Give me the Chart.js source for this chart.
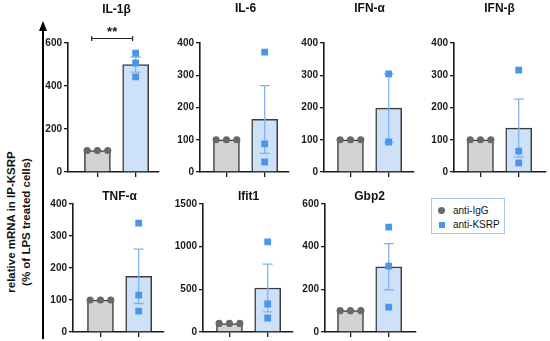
<!DOCTYPE html>
<html>
<head>
<meta charset="utf-8">
<script src="https://cdn.jsdelivr.net/npm/chart.js@4.4.0/dist/chart.umd.min.js"></script>
<style>
  body { margin: 0; background: #fff; width: 550px; height: 341px; position: relative; overflow: hidden;
         font-family: "Liberation Sans", Arial, sans-serif; color: #111; }
  canvas { position: absolute; }
  #ylab { position: absolute; left: -141px; top: 207px; width: 320px; height: 30px; transform: rotate(-90deg);
          text-align: center; font-weight: bold; font-size: 11.5px; line-height: 15px; white-space: nowrap; }
  #legend { position: absolute; left: 431px; top: 198px; width: 74px; height: 36px; border: 1px solid #a9c9ef;
            box-sizing: border-box; font-size: 10px; }
  .lg { position: absolute; left: 21px; white-space: nowrap; }
  .mk { position: absolute; }
</style>
</head>
<body>
<svg width="550" height="341" style="position:absolute;left:0;top:0">
  <line x1="43" y1="28" x2="43" y2="339" stroke="#000" stroke-width="2"/>
  <polygon points="43,21 39,31 47,31" fill="#000"/>
</svg>
<div id="ylab">relative mRNA in IP-KSRP<br>(% of LPS treated cells)</div>
<div id="legend"></div>

<script>
// ==================== DATOS ====================
const panelTitles = ['IL-1β', 'IL-6', 'IFN-α', 'IFN-β', 'TNF-α', 'Ifit1', 'Gbp2'];
const groupNames = ['anti-IgG', 'anti-KSRP'];
const iggMean = [100, 100, 100, 100, 100, 100, 100];
const ksrpMean = [500, 163, 198, 136, 174, 516, 306];
const ksrpSem = [35, 105, 106, 90, 85, 280, 108];
const iggPoints = [[100, 100, 100], [100, 100, 100], [100, 100, 100], [100, 100, 100],
                   [100, 100, 100], [100, 100, 100], [100, 100, 100]];
const ksrpPoints = [[553, 507, 442], [372, 87, 31], [304, 93], [316, 65, 28],
                    [340, 115, 65], [1055, 328, 164], [492, 309, 117]];
const yMax = [600, 400, 400, 400, 400, 1500, 600];
const yStep = [200, 100, 100, 100, 100, 500, 200];
const sigLabel = ['**', '', '', '', '', '', ''];

// ==================== LAYOUT ====================
// chart area of each panel (px), left padding before first bar, title offset above chart area
const boxes = [
  { l: 68,  r: 160, t: 43,  b: 172, pad: 30, tt: 33 },
  { l: 200, r: 290, t: 43,  b: 172, pad: 27, tt: 34 },
  { l: 324, r: 415, t: 43,  b: 172, pad: 27, tt: 34 },
  { l: 454, r: 547, t: 43,  b: 172, pad: 27, tt: 34 },
  { l: 73,  r: 165, t: 204, b: 332, pad: 28, tt: 7 },
  { l: 203, r: 294, t: 204, b: 332, pad: 27, tt: 7 },
  { l: 325, r: 417, t: 204, b: 332, pad: 26, tt: 7 }
];
const unit = 39;               // px between the two bars
const jitter = [-0.27, 0, 0.27];
const colIgg = '#d3d3d3', colKsrp = '#cde1f8';
const dotIgg = '#686868', dotKsrp = '#4a96ea', errCol = '#80b3ee';
const axisCol = '#1a1a1a';

// ==================== PLUGINS ====================
const extras = {
  id: 'extras',
  afterDatasetDraw(chart, args, opts) {
    if (args.index !== 0) return;
    const i = opts.panel;
    const xs = chart.scales.x, ys = chart.scales.y, ctx = chart.ctx;
    const x = xs.getPixelForValue(1);
    const yT = ys.getPixelForValue(ksrpMean[i] + ksrpSem[i]);
    const yB = ys.getPixelForValue(ksrpMean[i] - ksrpSem[i]);
    ctx.save();
    ctx.strokeStyle = errCol;
    ctx.lineWidth = 1.3;
    ctx.beginPath();
    ctx.moveTo(x, yT); ctx.lineTo(x, yB);
    ctx.moveTo(x - 5, yT); ctx.lineTo(x + 5, yT);
    ctx.moveTo(x - 5, yB); ctx.lineTo(x + 5, yB);
    ctx.stroke();
    ctx.restore();
  },
  afterDraw(chart, args, opts) {
    const i = opts.panel;
    const xs = chart.scales.x, ys = chart.scales.y, ctx = chart.ctx;
    ctx.save();
    ctx.fillStyle = '#111';
    ctx.font = 'bold 12px "Liberation Sans", Arial, sans-serif';
    ctx.textAlign = 'center';
    ctx.textBaseline = 'middle';
    ctx.fillText(panelTitles[i], xs.getPixelForValue(0.5), chart.chartArea.top - opts.tt);
    if (sigLabel[i]) {
      const x1 = xs.getPixelForValue(-0.15), x2 = xs.getPixelForValue(0.92);
      const yb = ys.getPixelForValue(yMax[i] * 1.035);
      ctx.strokeStyle = '#222';
      ctx.lineWidth = 1.2;
      ctx.beginPath();
      ctx.moveTo(x1, yb); ctx.lineTo(x2, yb);
      ctx.moveTo(x1, yb - 2.5); ctx.lineTo(x1, yb + 2.5);
      ctx.moveTo(x2, yb - 2.5); ctx.lineTo(x2, yb + 2.5);
      ctx.stroke();
      ctx.font = 'bold 13px "Liberation Sans", Arial, sans-serif';
      ctx.fillText(sigLabel[i], (x1 + x2) / 2, yb - 6);
    }
    ctx.restore();
  }
};

// ==================== PANELES ====================
boxes.forEach((bx, i) => {
  const padT = 40, yw = 36, xh = 8;
  const w = yw + (bx.r - bx.l) + 3;
  const h = padT + (bx.b - bx.t) + xh + 2;
  const cv = document.createElement('canvas');
  cv.width = w; cv.height = h;
  cv.style.left = (bx.l - yw) + 'px';
  cv.style.top = (bx.t - padT) + 'px';
  cv.style.width = w + 'px'; cv.style.height = h + 'px';
  document.body.appendChild(cv);

  const xMin = -bx.pad / unit, xMax = (bx.r - bx.l - bx.pad) / unit;

  new Chart(cv.getContext('2d'), {
    type: 'bar',
    data: {
      datasets: [
        {
          type: 'bar',
          data: [{ x: 0, y: iggMean[i] }, { x: 1, y: ksrpMean[i] }],
          backgroundColor: [colIgg, colKsrp],
          borderColor: '#3c3c3c',
          borderWidth: 1.5,
          barThickness: 26,
          order: 3
        },
        {
          type: 'scatter',
          label: groupNames[0],
          data: iggPoints[i].map((v, k) => ({ x: jitter[k], y: v })),
          pointStyle: 'circle',
          radius: 3.6,
          backgroundColor: dotIgg,
          borderWidth: 0,
          order: 1
        },
        {
          type: 'scatter',
          label: groupNames[1],
          data: ksrpPoints[i].map(v => ({ x: 1, y: v })),
          pointStyle: 'rect',
          radius: 4.8,
          backgroundColor: dotKsrp,
          borderWidth: 0,
          order: 1
        }
      ]
    },
    options: {
      responsive: false,
      animation: false,
      layout: { padding: { top: padT, right: 3, bottom: 2, left: 0 } },
      plugins: {
        legend: { display: false },
        tooltip: { enabled: false },
        extras: { panel: i, tt: bx.tt }
      },
      scales: {
        x: {
          type: 'linear',
          min: xMin, max: xMax,
          offset: false,
          afterBuildTicks: s => { s.ticks = [{ value: 0 }, { value: 1 }]; },
          afterFit: s => { s.height = xh; },
          ticks: { callback: () => '', padding: 0 },
          grid: { drawOnChartArea: false, offset: false, tickLength: 5, color: axisCol, lineWidth: 1.3 },
          border: { color: axisCol, width: 1.6 }
        },
        y: {
          min: 0, max: yMax[i],
          afterFit: s => { s.width = yw; },
          ticks: { stepSize: yStep[i], padding: 2, color: '#1a1a1a', callback: v => String(v),
                   font: { family: '"Liberation Sans", Arial, sans-serif', size: 10, weight: 'bold' } },
          grid: { drawOnChartArea: false, tickLength: 4, color: axisCol, lineWidth: 1.3 },
          border: { color: axisCol, width: 1.6 }
        }
      }
    },
    plugins: [extras]
  });
});

// ==================== LEYENDA ====================
const legend = document.getElementById('legend');
groupNames.forEach((name, k) => {
  const top = k === 0 ? 6 : 20;
  const mk = document.createElement('div');
  mk.className = 'mk';
  if (k === 0) {
    mk.style.cssText = `left:6px;top:${top + 2}px;width:7px;height:7px;border-radius:50%;background:${dotIgg}`;
  } else {
    mk.style.cssText = `left:7px;top:${top + 3}px;width:6px;height:6px;background:${dotKsrp}`;
  }
  legend.appendChild(mk);
  const t = document.createElement('div');
  t.className = 'lg';
  t.style.top = top + 'px';
  t.textContent = name;
  legend.appendChild(t);
});
</script>
</body>
</html>
